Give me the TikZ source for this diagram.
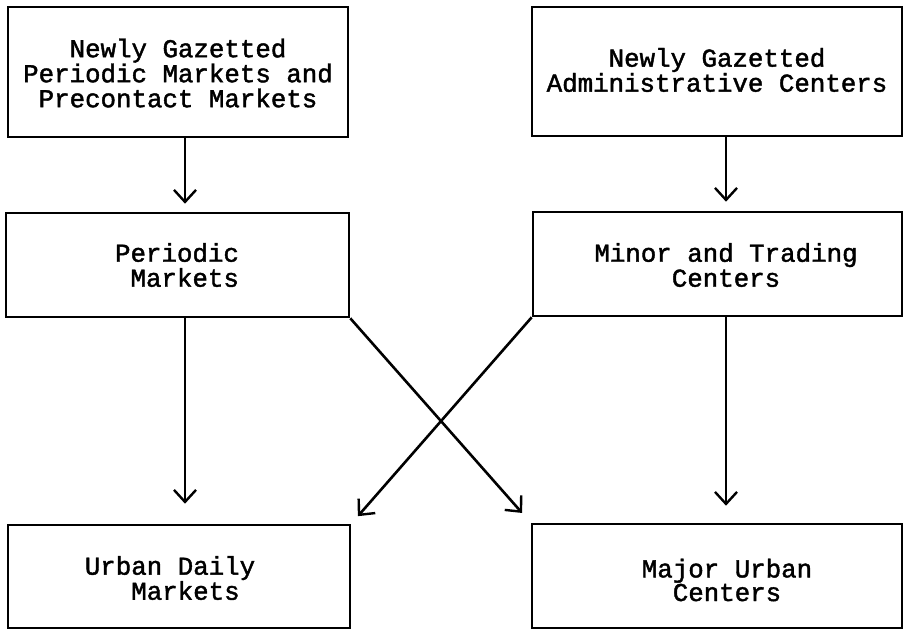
\documentclass[tikz,border=0pt]{standalone}
\usepackage{fontspec}
\newfontfamily\typew[FakeBold=1.6]{Liberation Mono}
\usetikzlibrary{arrows.meta,calc}
\begin{document}
\begin{tikzpicture}[x=1pt,y=-1pt,
  box/.style={draw, line width=2.6pt, rectangle, inner sep=0pt},
  lbl/.style={font=\fontsize{25.8}{25}\selectfont\typew, align=center, inner sep=0pt},
  arr/.style={line width=2.6pt, -{Straight Barb[length=12pt,width=22pt,line width=2.4pt]}}]
\useasboundingbox (0,0) rectangle (903,630);
% boxes
\node[box, minimum width=340pt, minimum height=130pt] (tl) at (178,72) {};
\node[box, minimum width=370pt, minimum height=129pt] (tr) at (717,71.5) {};
\node[box, minimum width=343pt, minimum height=104pt] (ml) at (177.5,265) {};
\node[box, minimum width=369pt, minimum height=104pt] (mr) at (717.5,264) {};
\node[box, minimum width=342pt, minimum height=103pt] (bl) at (179,576.5) {};
\node[box, minimum width=370pt, minimum height=104pt] (br) at (717,576) {};
% texts
\node[lbl] (tlt) at (178,73) {Newly Gazetted\\Periodic Markets and\\Precontact Markets};
\node[lbl] (trt) at (717,70) {Newly Gazetted\\Administrative Centers};
\node[lbl, align=right] (mlt) at (177,265) {Periodic\\Markets};
\node[lbl] (mrt) at (726,265) {Minor and Trading\\Centers};
\node[lbl, align=left, font=\fontsize{25.8}{23}\selectfont\typew] (blt) at (170,578) {Urban Daily\\\hphantom{xxx}Markets};
\node[lbl, font=\fontsize{25.8}{19}\selectfont\typew] (brt) at (727,580) {Major Urban\\Centers};
% arrow columns
\coordinate (cl) at (185,0);
\coordinate (cr) at (726,0);
\draw[arr, shorten >=8pt] (tl.south -| cl) -- (ml.north -| cl);
\draw[arr, shorten >=9pt] (tr.south -| cr) -- (mr.north -| cr);
\draw[arr, shorten >=20pt] (ml.south -| cl) -- (bl.north -| cl);
\draw[arr, shorten >=17pt] (mr.south -| cr) -- (br.north -| cr);
\draw[arr, shorten >=13pt] (ml.south east) -- (br.north west);
\draw[arr, shorten >=10pt] (mr.south west) -- (bl.north east);
\end{tikzpicture}
\end{document}
